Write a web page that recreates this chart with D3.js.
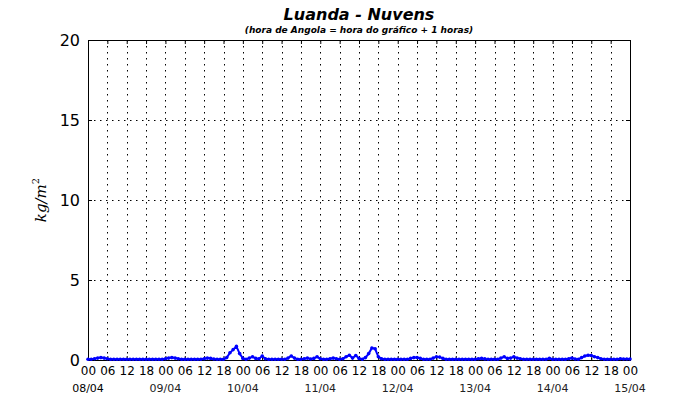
<!DOCTYPE html>
<html><head><meta charset="utf-8">
<script src="https://cdn.jsdelivr.net/npm/d3@7/dist/d3.min.js"></script>
<style>body{margin:0;background:#fff;}svg{display:block;font-family:"DejaVu Sans",sans-serif;}</style>
</head><body><svg id="c" width="700" height="400"></svg>
<script>
const title = "Luanda - Nuvens";
const subtitle = "(hora de Angola = hora do gráfico + 1 horas)";
const startDate = "2000-04-08T00:00:00Z";
const endDate = "2000-04-15T00:00:00Z";
const yTicks = [0, 5, 10, 15, 20];
const dayLabels = ["08/04", "09/04", "10/04", "11/04", "12/04", "13/04", "14/04", "15/04"];
// hourly values (kg/m2), index 0 = 08/04 00h
const day08 = [0.05,0.05,0.08,0.12,0.15,0.12,0.08,0.05,0.05,0.05,0.05,0.05,0.05,0.05,0.05,0.05,0.05,0.05,0.05,0.05,0.05,0.05,0.05,0.05];
const day09 = [0.08,0.12,0.15,0.12,0.08,0.05,0.05,0.05,0.05,0.05,0.05,0.05,0.08,0.12,0.1,0.06,0.05,0.05,0.05,0.15,0.45,0.65,0.85,0.4];
const day10 = [0.1,0.05,0.12,0.2,0.1,0.08,0.25,0.08,0.05,0.05,0.05,0.05,0.05,0.05,0.12,0.25,0.12,0.05,0.05,0.08,0.12,0.06,0.1,0.2];
const day11 = [0.08,0.05,0.05,0.08,0.12,0.08,0.05,0.08,0.2,0.3,0.12,0.28,0.1,0.05,0.15,0.4,0.75,0.7,0.2,0.08,0.05,0.05,0.05,0.05];
const day12 = [0.05,0.05,0.05,0.05,0.1,0.15,0.15,0.1,0.05,0.05,0.05,0.12,0.2,0.18,0.1,0.05,0.05,0.05,0.05,0.05,0.05,0.05,0.05,0.05];
const day13 = [0.05,0.08,0.1,0.07,0.05,0.05,0.05,0.05,0.12,0.2,0.1,0.12,0.2,0.12,0.08,0.05,0.05,0.05,0.05,0.05,0.05,0.05,0.05,0.1];
const day14 = [0.05,0.05,0.05,0.05,0.05,0.08,0.12,0.06,0.05,0.15,0.25,0.3,0.28,0.2,0.15,0.08,0.05,0.05,0.05,0.05,0.05,0.08,0.06,0.06];
const day15 = [0.06];
const values = [].concat(day08, day09, day10, day11, day12, day13, day14, day15);

const svg = d3.select("#c");
const m = {l: 88, r: 630, t: 40, b: 360};
const t0 = new Date(startDate), t1 = new Date(endDate);
const x = d3.scaleUtc().domain([t0, t1]).range([m.l, m.r]);
const y = d3.scaleLinear().domain([0, 20]).range([m.b, m.t]);
const data = values.map((v, i) => ({t: d3.utcHour.offset(t0, i), v}));

svg.append("rect").attr("width",700).attr("height",400).attr("fill","#fff");

// grid
const hourTicks = d3.utcHour.every(6).range(t0, d3.utcHour.offset(t1, 1));
svg.append("g").selectAll("line").data(hourTicks.filter(d => +d > +t0 && +d < +t1)).join("line")
  .attr("x1", d => Math.round(x(d)) + 0.5).attr("x2", d => Math.round(x(d)) + 0.5).attr("y1", m.t).attr("y2", m.b)
  .attr("stroke", "#000").attr("stroke-width", 1).attr("stroke-dasharray", "1.5,4.5");
svg.append("g").selectAll("line").data(yTicks.filter(d => d > 0 && d < 20)).join("line")
  .attr("x1", m.l).attr("x2", m.r).attr("y1", d => y(d) + 0.5).attr("y2", d => y(d) + 0.5)
  .attr("stroke", "#000").attr("stroke-width", 1).attr("stroke-dasharray", "1.5,4.5");

// x axis (inward ticks)
const xAxis = d3.axisBottom(x).tickValues(hourTicks).tickFormat(d3.utcFormat("%H")).tickSizeInner(-4).tickSizeOuter(0).tickPadding(6);
const gx = svg.append("g").attr("transform", `translate(0,${m.b})`).call(xAxis);
gx.select(".domain").remove();
gx.selectAll("text").attr("font-size", 12).attr("fill", "#000").attr("font-family", "DejaVu Sans");
gx.selectAll("line").attr("stroke", "#000");
// top ticks
svg.append("g").attr("transform", `translate(0,${m.t})`).call(d3.axisTop(x).tickValues(hourTicks).tickFormat("").tickSizeInner(-4).tickSizeOuter(0))
  .call(g => g.select(".domain").remove());

// day labels
const days = d3.utcDay.range(t0, d3.utcDay.offset(t1, 1));
svg.append("g").selectAll("text").data(days).join("text")
  .attr("x", d => x(d)).attr("y", 392).attr("text-anchor", "middle")
  .attr("font-size", 11).attr("fill", (d, i) => i === 0 ? "#000" : "#222")
  .text((d, i) => dayLabels[i]);

// y axis
const yAxis = d3.axisLeft(y).tickValues(yTicks).tickSizeInner(-4).tickSizeOuter(0).tickPadding(8);
const gy = svg.append("g").attr("transform", `translate(${m.l},0)`).call(yAxis);
gy.select(".domain").remove();
gy.selectAll("text").attr("font-size", 16).attr("fill", "#000").attr("font-family", "DejaVu Sans");
svg.append("g").attr("transform", `translate(${m.r},0)`).call(d3.axisRight(y).tickValues(yTicks).tickFormat("").tickSizeInner(-4).tickSizeOuter(0))
  .call(g => g.select(".domain").remove());

// frame
svg.append("rect").attr("x", m.l + 0.5).attr("y", m.t + 0.5).attr("width", m.r - m.l).attr("height", m.b - m.t)
  .attr("fill", "none").attr("stroke", "#000").attr("stroke-width", 1);

// data line
const line = d3.line().x(d => x(d.t)).y(d => y(d.v));
svg.append("path").datum(data).attr("d", line).attr("fill", "none").attr("stroke", "#0000ff").attr("stroke-width", 2);
svg.append("g").selectAll("circle").data(data).join("circle")
  .attr("cx", d => x(d.t)).attr("cy", d => y(d.v)).attr("r", 1.8).attr("fill", "#0000ff");

// y label
const yl = svg.append("text").attr("transform", "translate(46,200) rotate(-90)").attr("text-anchor", "middle")
  .attr("font-family", "DejaVu Serif").attr("font-style", "italic").attr("font-size", 15).attr("fill", "#000");
yl.append("tspan").text("kg/m");
yl.append("tspan").attr("font-size", 10).attr("dy", -7).attr("font-style","normal").text("2");

// titles
svg.append("text").attr("x", 359).attr("y", 20).attr("text-anchor", "middle").attr("font-size", 16)
  .attr("font-weight", "bold").attr("font-style", "italic").text(title);
svg.append("text").attr("x", 359).attr("y", 33).attr("text-anchor", "middle").attr("font-size", 9)
  .attr("font-weight", "bold").attr("font-style", "italic").text(subtitle);
</script></body></html>
